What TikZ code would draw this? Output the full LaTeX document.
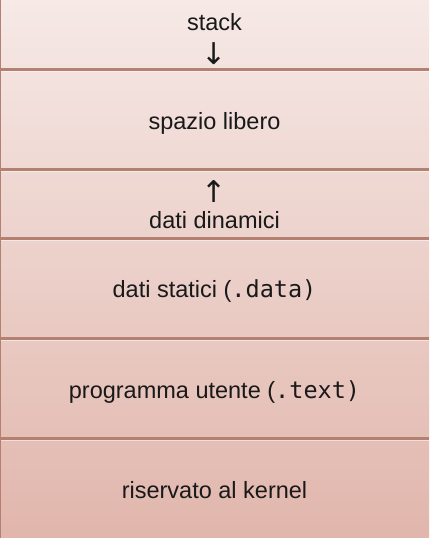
\documentclass[tikz,border=0pt]{standalone}
\usepackage{fontspec}
\setmainfont{Liberation Sans}
\newfontfamily\arrowfont{DejaVu Sans}
\newfontfamily\codefont{DejaVu Sans Mono}
\begin{document}
\begin{tikzpicture}[x=1pt,y=-1pt,
  band/.style={rectangle, inner sep=0pt, minimum width=429pt, anchor=north west},
  label/.style={inner sep=0pt, anchor=base, font=\fontsize{23.5}{28}\selectfont, text=black!90},
  arrowlbl/.style={inner sep=0pt, font=\arrowfont\fontsize{30}{34}\selectfont, text=black!90},
  sep/.style={draw=sepcol, line width=2.2pt},
  glint/.style={draw=white, opacity=0.5, line width=0.8pt}]
\definecolor{topcol}{HTML}{F6E9E6}
\definecolor{botcol}{HTML}{E1B6AC}
\definecolor{sepcol}{HTML}{B38071}
\useasboundingbox (0,0) rectangle (429,538);
% background gradient of the memory column
\shade[top color=topcol, bottom color=botcol] (0,0) rectangle (429,538);
% memory regions
\node[band, minimum height=69pt]  (stack)  at (0,0)   {};
\node[band, minimum height=100pt] (free)   at (0,69)  {};
\node[band, minimum height=69pt]  (heap)   at (0,169) {};
\node[band, minimum height=100pt] (data)   at (0,238) {};
\node[band, minimum height=100pt] (text)   at (0,338) {};
\node[band, minimum height=100pt] (kernel) at (0,438) {};
% labels (placed on their baselines)
\node[label]    (stacklbl) at (214.5,30)  {stack};
\node[arrowlbl] (down)     at (214.5,54)  {↓};
\node[label]    (freelbl)  at (214.5,129) {spazio libero};
\node[arrowlbl] (up)       at (214.5,192) {↑};
\node[label]    (heaplbl)  at (214.5,228) {dati dinamici};
\node[label]    (datalbl)  at (214.5,297) {dati statici (\codefont .data)};
\node[label]    (textlbl)  at (214.5,398) {programma utente (\codefont .text)};
\node[label]    (kernlbl)  at (214.5,498) {riservato al kernel};
% separators between regions
\foreach \b in {stack,free,heap,data,text}{
  \draw[sep] (\b.south west) -- (\b.south east);
  \draw[glint] ([yshift=-1.6pt]\b.south west) -- ([yshift=-1.6pt]\b.south east);
}
% left edge of the column
\draw[draw=sepcol, line width=2.2pt] (stack.north west) -- (kernel.south west);
\end{tikzpicture}
\end{document}
